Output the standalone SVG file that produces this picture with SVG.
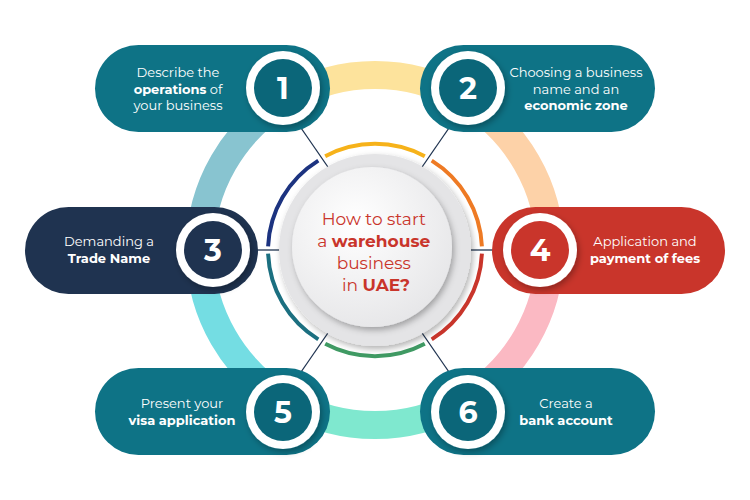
<svg xmlns="http://www.w3.org/2000/svg" width="750" height="500" viewBox="0 0 750 500">
<defs>
<radialGradient id="cg" cx="0.4" cy="0.35" r="0.7"><stop offset="0" stop-color="#ffffff"/><stop offset="1" stop-color="#e6e6e8"/></radialGradient>
<filter id="sh" x="-30%" y="-30%" width="160%" height="160%"><feDropShadow dx="2" dy="3" stdDeviation="3" flood-color="#000" flood-opacity="0.3"/></filter>
<style>
.t{font-family:Montserrat,"Open Sans","Liberation Sans",sans-serif;font-size:13px;fill:#fff;text-anchor:middle}
.b{font-weight:bold}
.n{font-family:Montserrat,"Open Sans","Liberation Sans",sans-serif;font-size:30px;font-weight:bold;fill:#fff;text-anchor:middle}
.ring{fill:none;stroke-width:28}
.arc{fill:none;stroke-width:4}
.ln{stroke:#1f3350;stroke-width:1.3}
</style>
</defs>
<rect width="750" height="500" fill="#fff"/>
<g id="ring">
<path class="ring" stroke="#fde39c" d="M287.5,98.4 A175,175 0 0 1 462.5,98.4"/>
<path class="ring" stroke="#fdd2a8" d="M462.5,98.4 A175,175 0 0 1 550,250"/>
<path class="ring" stroke="#fbb9c3" d="M550,250 A175,175 0 0 1 462.5,401.6"/>
<path class="ring" stroke="#7fe8cf" d="M462.5,401.6 A175,175 0 0 1 287.5,401.6"/>
<path class="ring" stroke="#74dde3" d="M287.5,401.6 A175,175 0 0 1 200,250"/>
<path class="ring" stroke="#88c4d0" d="M200,250 A175,175 0 0 1 287.5,98.4"/>
</g>
<g id="connectors">
<line class="ln" x1="290" y1="112" x2="330" y2="170"/>
<line class="ln" x1="460" y1="112" x2="420" y2="170"/>
<line class="ln" x1="290" y1="388" x2="330" y2="330"/>
<line class="ln" x1="460" y1="388" x2="420" y2="330"/>
<line class="ln" x1="255" y1="250" x2="282" y2="250"/>
<line class="ln" x1="468" y1="250" x2="495" y2="250"/>
</g>
<g id="center">
<path class="arc" stroke="#f6b21a" d="M325.2,156.3 A106,106 0 0 1 424.8,156.3"/>
<path class="arc" stroke="#ee7a24" d="M431.7,160.6 A106,106 0 0 1 481.9,246.3"/>
<path class="arc" stroke="#c9352b" d="M481.9,253.7 A106,106 0 0 1 431.7,339.4"/>
<path class="arc" stroke="#3f9a63" d="M424.8,343.7 A106,106 0 0 1 325.2,343.7"/>
<path class="arc" stroke="#1b6f80" d="M318.3,339.4 A106,106 0 0 1 268.1,253.7"/>
<path class="arc" stroke="#1c3380" d="M268.1,246.3 A106,106 0 0 1 318.3,160.6"/>
<circle cx="375" cy="250" r="96" fill="#e4e4e6" filter="url(#sh)"/>
<circle cx="372" cy="247" r="80" fill="url(#cg)" filter="url(#sh)"/>
<text font-family="Montserrat,'Open Sans','Liberation Sans',sans-serif" font-size="17" fill="#c9352b" text-anchor="middle">
<tspan x="376" y="225">How to start</tspan>
<tspan x="376" y="247">a <tspan font-weight="bold">warehouse</tspan></tspan>
<tspan x="376" y="269">business</tspan>
<tspan x="376" y="291">in <tspan font-weight="bold">UAE?</tspan></tspan>
</text>
</g>
<g id="node1">
<rect x="95" y="45" width="235" height="87" rx="43.5" fill="#0e7386"/>
<circle cx="283" cy="88" r="37" fill="#fff" filter="url(#sh)"/>
<circle cx="283" cy="88" r="29" fill="#0b6679"/>
<text class="n" x="283" y="99">1</text>
<text class="t"><tspan x="178" y="77">Describe the</tspan><tspan x="178" y="94" class="b">operations<tspan font-weight="normal"> of</tspan></tspan><tspan x="178" y="110">your business</tspan></text>
</g>
<g id="node2">
<rect x="420" y="45" width="235" height="87" rx="43.5" fill="#0e7386"/>
<circle cx="468" cy="88" r="37" fill="#fff" filter="url(#sh)"/>
<circle cx="468" cy="88" r="29" fill="#0b6679"/>
<text class="n" x="468" y="99">2</text>
<text class="t"><tspan x="576" y="77">Choosing a business</tspan><tspan x="576" y="94">name and an</tspan><tspan x="576" y="110" class="b">economic zone</tspan></text>
</g>
<g id="node3">
<rect x="25" y="207" width="233" height="87" rx="43.5" fill="#1f3350"/>
<circle cx="213" cy="250" r="37" fill="#fff" filter="url(#sh)"/>
<circle cx="213" cy="250" r="29" fill="#1f3350"/>
<text class="n" x="213" y="261">3</text>
<text class="t"><tspan x="109" y="246">Demanding a</tspan><tspan x="109" y="263" class="b">Trade Name</tspan></text>
</g>
<g id="node4">
<rect x="492" y="207" width="233" height="87" rx="43.5" fill="#c9352b"/>
<circle cx="540" cy="250" r="37" fill="#fff" filter="url(#sh)"/>
<circle cx="540" cy="250" r="29" fill="#c9352b"/>
<text class="n" x="540" y="261">4</text>
<text class="t"><tspan x="645" y="246">Application and</tspan><tspan x="645" y="263" class="b">payment of fees</tspan></text>
</g>
<g id="node5">
<rect x="95" y="368" width="235" height="87" rx="43.5" fill="#0e7386"/>
<circle cx="283" cy="412" r="37" fill="#fff" filter="url(#sh)"/>
<circle cx="283" cy="412" r="29" fill="#0b6679"/>
<text class="n" x="283" y="423">5</text>
<text class="t"><tspan x="182" y="408">Present your</tspan><tspan x="182" y="425" class="b">visa application</tspan></text>
</g>
<g id="node6">
<rect x="420" y="368" width="235" height="87" rx="43.5" fill="#0e7386"/>
<circle cx="468" cy="412" r="37" fill="#fff" filter="url(#sh)"/>
<circle cx="468" cy="412" r="29" fill="#0b6679"/>
<text class="n" x="468" y="423">6</text>
<text class="t"><tspan x="566" y="408">Create a</tspan><tspan x="566" y="425" class="b">bank account</tspan></text>
</g>
</svg>
